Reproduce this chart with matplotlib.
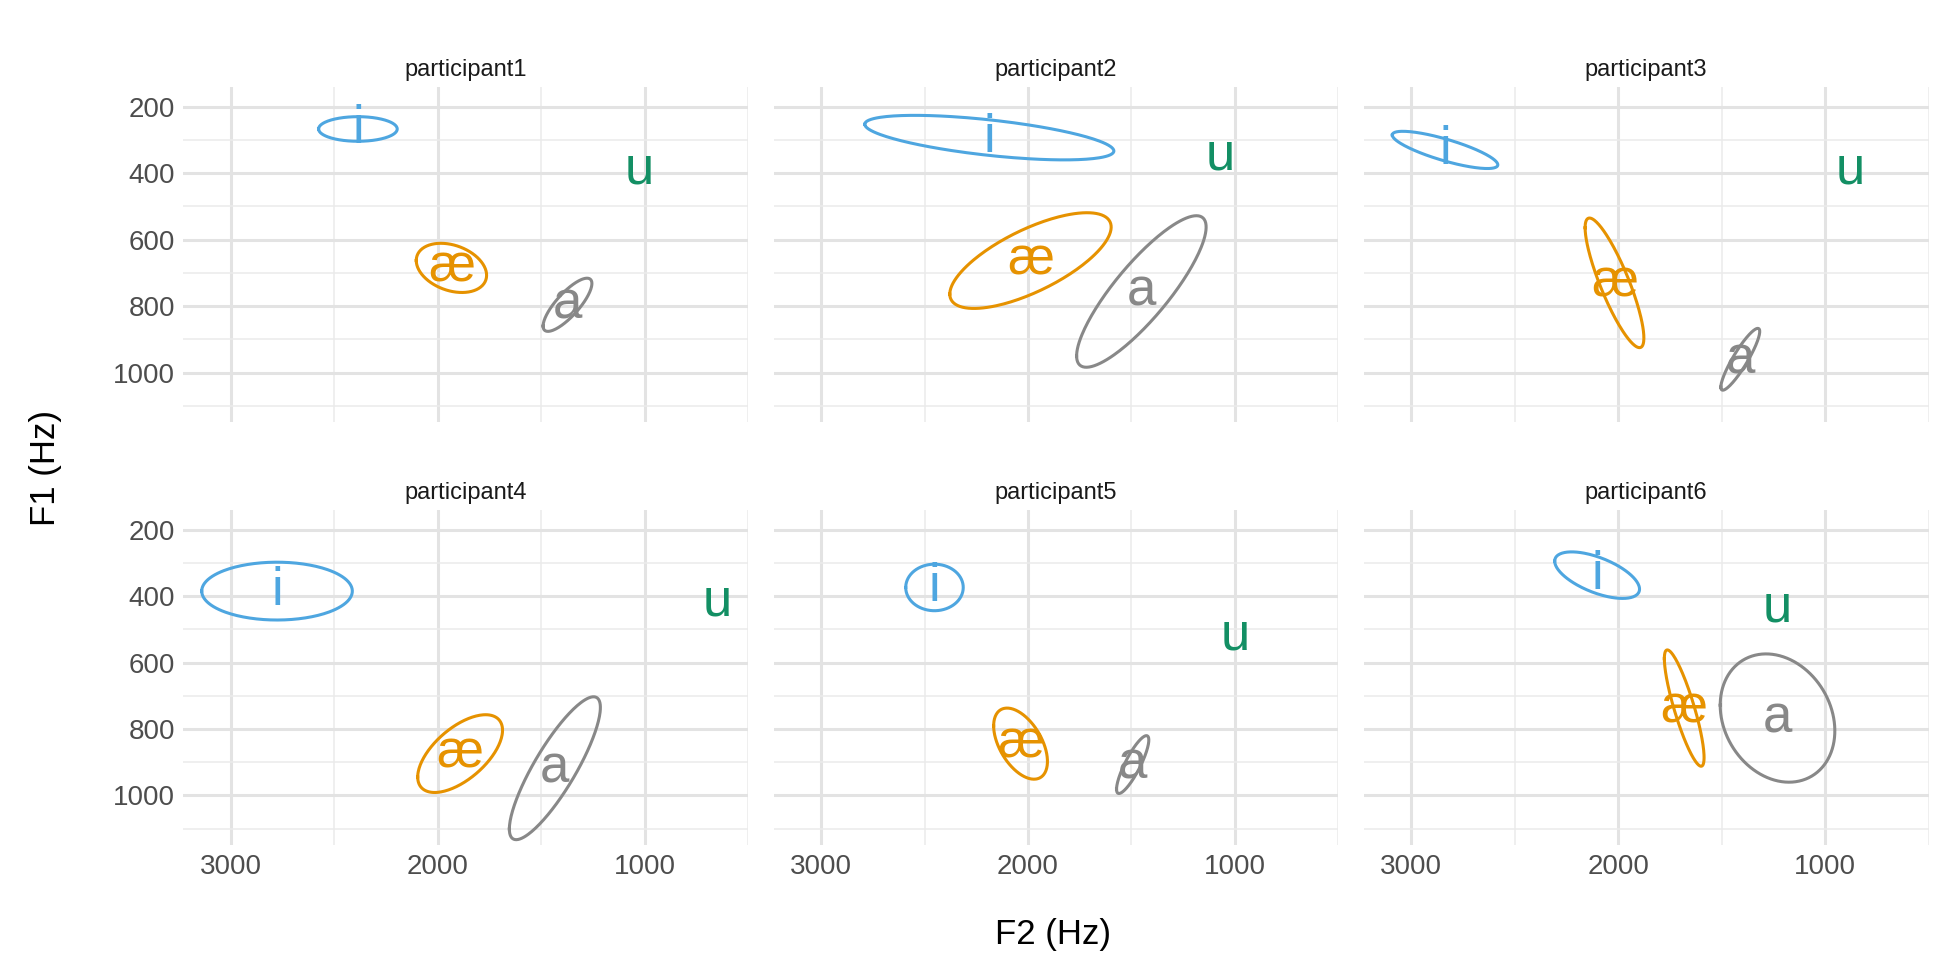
import numpy as np
import matplotlib.pyplot as plt

plt.rcParams['font.family'] = ['Liberation Sans', 'DejaVu Sans']

participants = ["participant1", "participant2", "participant3",
                "participant4", "participant5", "participant6"]
vowels = ["i", "æ", "a"]
colors = {"i": "#4EA6E0", "æ": "#E69200", "a": "#888888", "u": "#138F64"}

# ellipse vowels: centre F2, centre F1, half-extent F2, half-extent F1, correlation
f2_mean = {"i": [2386, 2187, 2837, 2777, 2452, 2102],
           "æ": [1934, 1988, 2018, 1892, 2036, 1681],
           "a": [1373, 1452, 1410, 1434, 1494, 1230]}
f1_mean = {"i": [267, 293, 330, 385, 374, 337],
           "æ": [685, 663, 730, 874, 844, 737],
           "a": [796, 756, 960, 918, 907, 767]}
f2_sd = {"i": [190, 602, 255, 364, 139, 205],
         "æ": [170, 390, 142, 205, 130, 96],
         "a": [118, 313, 94, 220, 78, 277]}
f1_sd = {"i": [37, 67, 56, 87, 70, 70],
         "æ": [74, 144, 195, 117, 107, 175],
         "a": [80, 228, 93, 215, 87, 193]}
corr = {"i": [0.0, -0.6, -0.8, 0.0, 0.0, -0.6],
        "æ": [-0.3, 0.7, -0.85, 0.6, -0.5, -0.85],
        "a": [0.8, 0.85, 0.9, 0.85, 0.85, -0.2]}
# u has only a label
u_f2 = [1024, 1072, 880, 650, 1000, 1230]
u_f1 = [389, 348, 389, 415, 519, 433]

fig, axes = plt.subplots(2, 3, figsize=(19.5, 9.75), dpi=100, sharex=True, sharey=True)
fig.subplots_adjust(left=0.094, right=0.989, top=0.911, bottom=0.133, wspace=0.045, hspace=0.26)

t = np.linspace(0, 2 * np.pi, 200)
for k, ax in enumerate(axes.flat):
    for v in vowels:
        phi = np.arccos(corr[v][k])
        x = f2_mean[v][k] + f2_sd[v][k] * np.cos(t)
        y = f1_mean[v][k] + f1_sd[v][k] * np.cos(t - phi)
        ax.plot(x, y, color=colors[v], lw=2.2)
        ax.text(f2_mean[v][k], f1_mean[v][k], v, color=colors[v], fontsize=38,
                ha="center", va="center")
    ax.text(u_f2[k], u_f1[k], "u", color=colors["u"], fontsize=38, ha="center", va="center")
    ax.set_title(participants[k], fontsize=17, color="#1a1a1a", pad=8)
    ax.set_xlim(3230, 500)
    ax.set_ylim(1150, 140)
    ax.set_xticks([3000, 2000, 1000])
    ax.set_xticks([2500, 1500, 500], minor=True)
    ax.set_yticks([200, 400, 600, 800, 1000])
    ax.set_yticks([300, 500, 700, 900, 1100], minor=True)
    ax.grid(which="major", color="#E3E3E3", lw=2.2)
    ax.grid(which="minor", color="#EBEBEB", lw=1.1)
    ax.set_axisbelow(True)
    for s in ax.spines.values():
        s.set_visible(False)
    ax.tick_params(which="both", length=0, labelsize=20, labelcolor="#4d4d4d", pad=6)

fig.supxlabel("F2 (Hz)", fontsize=25, x=0.54, y=0.025)
fig.supylabel("F1 (Hz)", fontsize=25, x=0.015, y=0.52)
fig.savefig("out.png")
